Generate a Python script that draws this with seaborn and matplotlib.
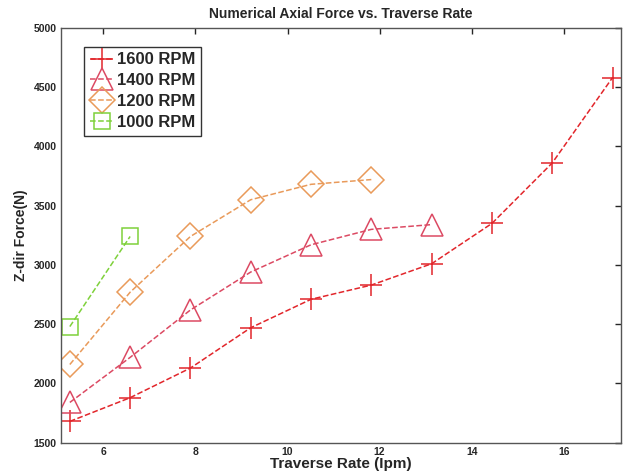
import pandas as pd
import matplotlib
matplotlib.use('Agg')
import matplotlib.pyplot as plt
import seaborn as sns

################################################################################

rate_1600 = [5.27, 6.58, 7.89, 9.2, 10.51, 11.82, 13.13, 14.44, 15.75, 17.06]
force_1600 = [1680, 1880, 2130, 2470, 2710, 2830, 3010, 3350, 3860, 4580]

rate_1400 = [5.27, 6.58, 7.89, 9.2, 10.51, 11.82, 13.13]
force_1400 = [1840, 2220, 2620, 2940, 3170, 3300, 3340]

rate_1200 = [5.27, 6.58, 7.89, 9.2, 10.51, 11.82]
force_1200 = [2160, 2770, 3240, 3550, 3680, 3720]

rate_1000 = [5.27, 6.58]
force_1000 = [2480, 3240]

labels = ['1600 RPM', '1400 RPM', '1200 RPM', '1000 RPM']
x_ticks = [6, 8, 10, 12, 14, 16]
y_ticks = [1500, 2000, 2500, 3000, 3500, 4000, 4500, 5000]

################################################################################

sns.set_style('white')
plt.rcParams['font.family'] = ['Liberation Sans', 'DejaVu Sans']

fig = plt.figure(figsize = (6.25, 4.72), dpi = 100)
ax = fig.add_axes([0.097, 0.062, 0.897, 0.879])

series = [
    (rate_1600, force_1600, labels[0], '#e2262b', '+', 16, 'full'),
    (rate_1400, force_1400, labels[1], '#dc4a63', '^', 16, 'none'),
    (rate_1200, force_1200, labels[2], '#e99a5a', 'D', 13, 'none'),
    (rate_1000, force_1000, labels[3], '#7fd13b', 's', 12, 'none'),
]

for rate, force, label, color, marker, size, fill in series:
    df = pd.DataFrame({'rate': rate, 'force': force})
    kw = dict(markerfacecolor = 'none') if fill == 'none' else {}
    sns.lineplot(
        data = df,
        x = 'rate',
        y = 'force',
        color = color,
        marker = marker,
        markersize = size,
        markeredgecolor = color,
        markeredgewidth = 1.1,
        linestyle = '--',
        linewidth = 1.1,
        label = label,
        ax = ax,
        **kw
    )

ax.set_xlim(5.07, 17.25)
ax.set_ylim(1500, 5000)
ax.set_xticks(x_ticks)
ax.set_yticks(y_ticks)
ax.tick_params(direction = 'in', top = True, right = True, length = 4, width = 1,
               labelsize = 7.5, pad = 3)
for lab in ax.get_xticklabels() + ax.get_yticklabels():
    lab.set_fontweight('bold')

for spine in ax.spines.values():
    spine.set_color('#555555')
    spine.set_linewidth(1)

ax.set_title('Numerical Axial Force vs. Traverse Rate', fontsize = 10, fontweight = 'bold', pad = 7)
ax.set_xlabel('Traverse Rate (Ipm)', fontsize = 11, fontweight = 'bold', labelpad = 0)
ax.set_ylabel('Z-dir Force(N)', fontsize = 10, fontweight = 'bold', labelpad = 4)

leg = ax.legend(loc = 'upper left', bbox_to_anchor = (0.042, 0.955), frameon = True,
                fancybox = False, edgecolor = 'black', handlelength = 1.4,
                handletextpad = 0.2, borderpad = 0.35, labelspacing = 0.35,
                borderaxespad = 0, prop = {'weight': 'bold', 'size': 12})
leg.get_frame().set_linewidth(1.0)

fig.savefig('out.png', dpi = 100)
